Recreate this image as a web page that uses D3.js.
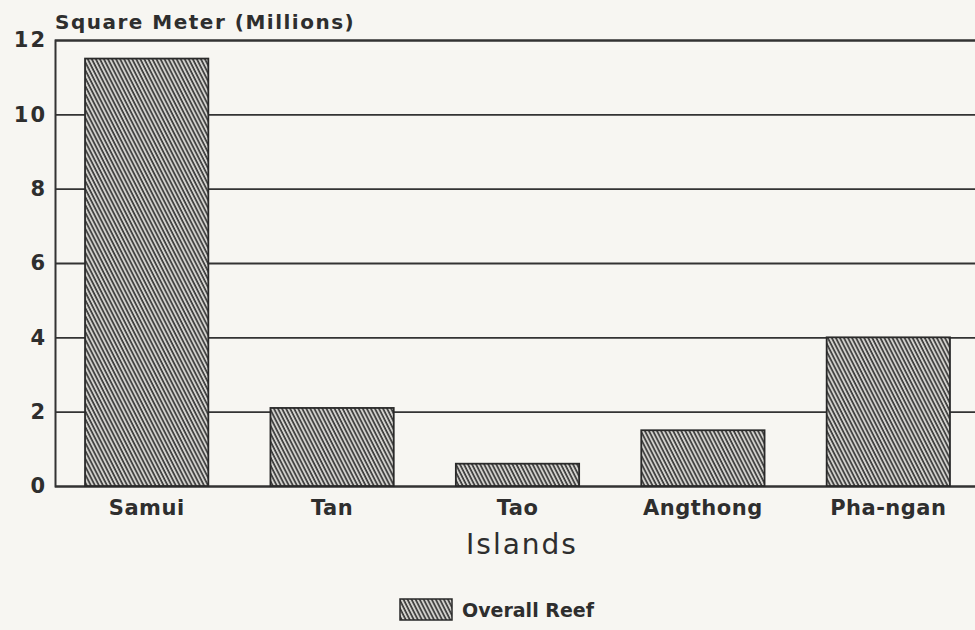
<!DOCTYPE html>
<html>
<head>
<meta charset="utf-8">
<script src="https://cdn.jsdelivr.net/npm/d3@7"></script>
<style>
  html, body { margin: 0; padding: 0; background: #f7f6f2; }
  svg { display: block; }
  text { font-family: "DejaVu Sans", "Liberation Sans", Arial, sans-serif; fill: #2e2e2e; }
</style>
</head>
<body>
<svg id="chart" width="975" height="630"></svg>
<script>
// Reef area by island (square meters, millions)
const islands = ["Samui", "Tan", "Tao", "Angthong", "Pha-ngan"];
const reefArea = [11.5, 2.1, 0.6, 1.5, 4.0];
const yTicks = [0, 2, 4, 6, 8, 10, 12];
const seriesName = "Overall Reef";

const svg = d3.select("#chart");
const W = 975;
const axisX = 55, plotTop = 40, plotBottom = 486;
const ink = "#333";

const x = d3.scaleBand().domain(islands).range([axisX, 980])
  .paddingInner(0.335).paddingOuter(0.162);
const y = d3.scaleLinear().domain([0, 12]).range([plotBottom, plotTop]);

// diagonal hatch fill
const defs = svg.append("defs");
const pat = defs.append("pattern")
  .attr("id", "hatch").attr("patternUnits", "userSpaceOnUse")
  .attr("width", 3.6).attr("height", 10)
  .attr("patternTransform", "rotate(-27)");
pat.append("rect").attr("width", 3.6).attr("height", 10).attr("fill", "#d6d5d1");
pat.append("line").attr("x1", 1).attr("x2", 1).attr("y1", 0).attr("y2", 10)
  .attr("stroke", "#383838").attr("stroke-width", 1.7);

// horizontal grid lines / axis ticks
const yAxis = d3.axisLeft(y).tickValues(yTicks).tickSize(-(W - axisX)).tickPadding(8)
  .tickFormat(d3.format("d"));
const gy = svg.append("g").attr("transform", `translate(${axisX},0)`).call(yAxis);
gy.select(".domain").attr("stroke", ink).attr("stroke-width", 2);
gy.selectAll(".tick line").attr("stroke", ink).attr("stroke-width", 1.8);
gy.selectAll(".tick text").attr("font-size", 21).attr("font-weight", "bold")
  .attr("letter-spacing", 2).attr("fill", "#2e2e2e");

// bars
svg.append("g").selectAll("rect").data(islands).join("rect")
  .attr("x", d => x(d))
  .attr("width", x.bandwidth())
  .attr("y", (d, i) => y(reefArea[i]))
  .attr("height", (d, i) => y(0) - y(reefArea[i]))
  .attr("fill", "url(#hatch)")
  .attr("stroke", "#2a2a2a").attr("stroke-width", 1.8);

// category labels
const xAxis = d3.axisBottom(x).tickSize(0).tickPadding(14);
const gx = svg.append("g").attr("transform", `translate(0,${plotBottom})`).call(xAxis);
gx.select(".domain").remove();
gx.selectAll(".tick text").attr("font-size", 21).attr("font-weight", "bold")
  .attr("letter-spacing", 0.5).attr("fill", "#2e2e2e");

// titles
svg.append("text").attr("x", axisX).attr("y", 29)
  .attr("font-size", 20).attr("font-weight", "bold").attr("letter-spacing", 1.5)
  .text("Square Meter (Millions)");
svg.append("text").attr("x", 522).attr("y", 554).attr("text-anchor", "middle")
  .attr("font-size", 28).attr("letter-spacing", 2).text("Islands");

// legend
svg.append("rect").attr("x", 400).attr("y", 599).attr("width", 52).attr("height", 21)
  .attr("fill", "url(#hatch)").attr("stroke", "#2a2a2a").attr("stroke-width", 1.5);
svg.append("text").attr("x", 462).attr("y", 617)
  .attr("font-size", 19).attr("font-weight", "bold").text(seriesName);
</script>
</body>
</html>
